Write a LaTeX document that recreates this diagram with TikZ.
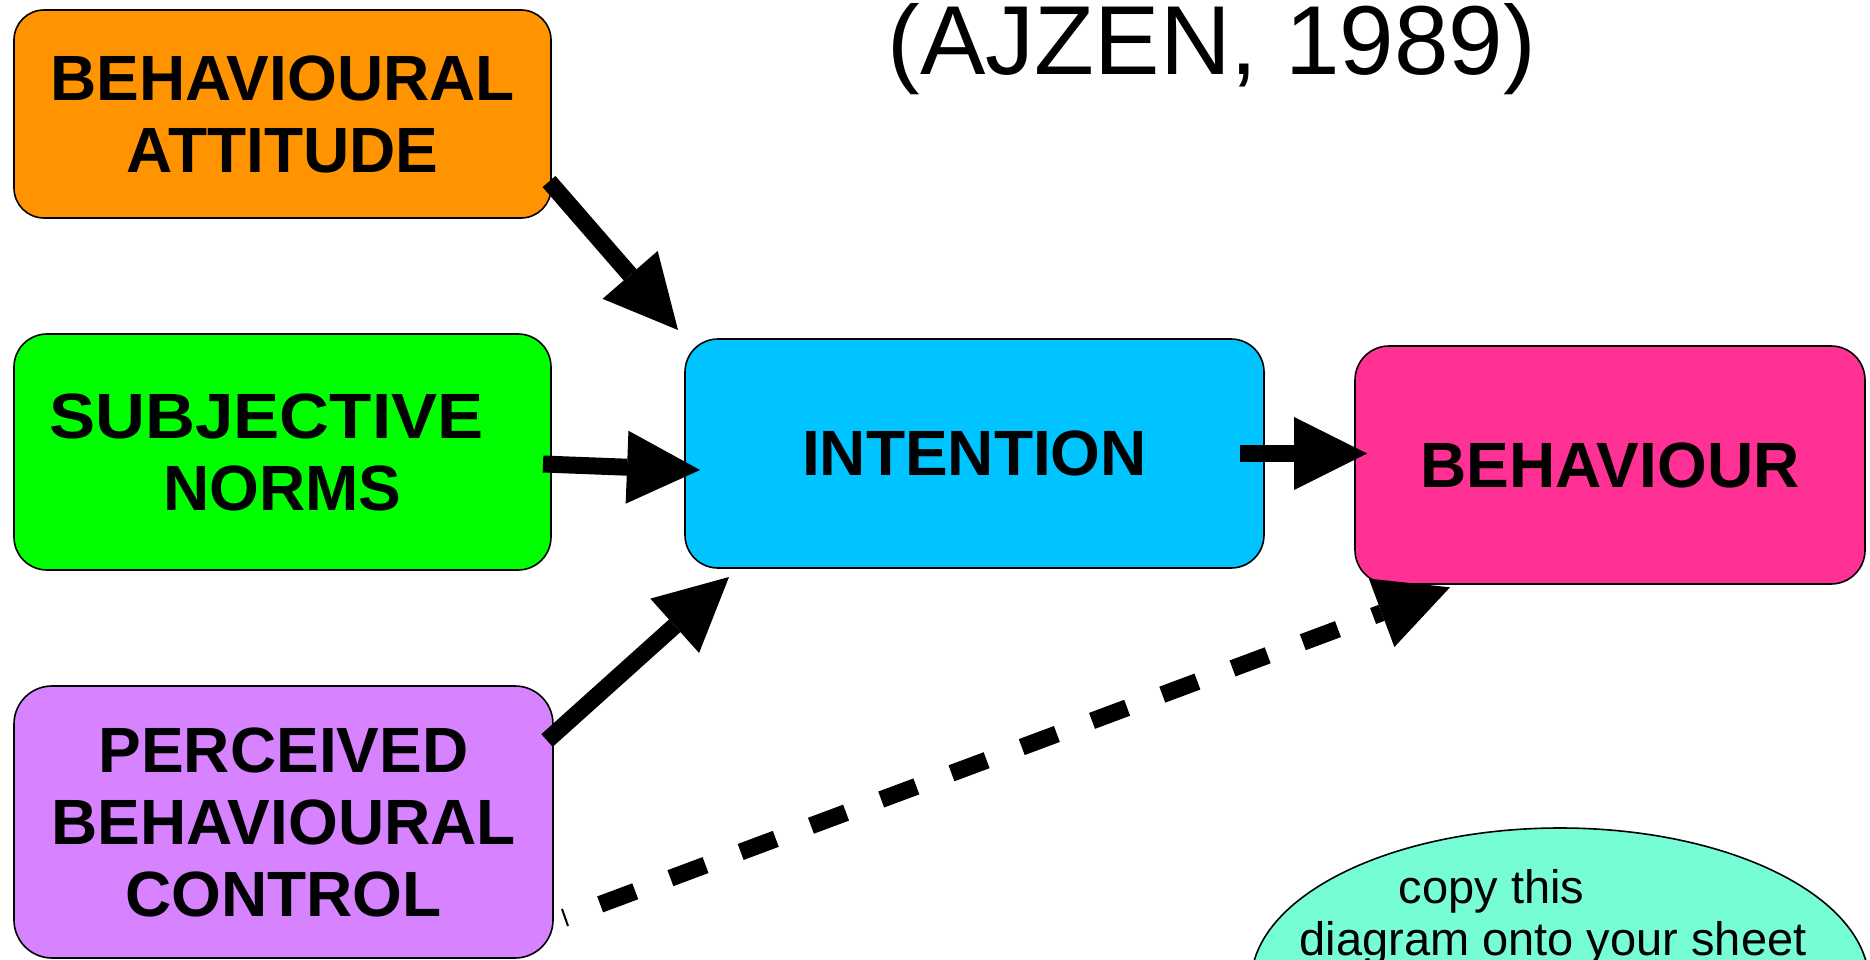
\documentclass[tikz,border=0pt]{standalone}
\usepackage{fontspec}
\usepackage{graphicx}
\setmainfont{Liberation Sans}
\usetikzlibrary{arrows.meta,shapes.geometric,calc}
\definecolor{cOrange}{HTML}{FF9400}
\definecolor{cGreen}{HTML}{00FF00}
\definecolor{cPurple}{HTML}{D783FF}
\definecolor{cCyan}{HTML}{00C4FF}
\definecolor{cPink}{HTML}{FF3194}
\definecolor{cAqua}{HTML}{76FDD6}
\tikzset{
  box/.style={draw=black, line width=1.6pt, rectangle, inner sep=0pt, align=center,
    font=\fontsize{64}{72}\selectfont\bfseries},
  conn/.style={line width=17pt, -{Triangle[length=73pt,width=73pt,line width=0pt]}},
  dashconn/.style={conn, dash pattern=on 37.5pt off 37.5pt, dash phase=37.5pt},
  notetext/.style={anchor=base, inner sep=0pt, font=\fontsize{47}{55}\selectfont},
}
\begin{document}
\begin{tikzpicture}[x=1pt,y=-1pt]
\useasboundingbox (0,0) rectangle (1870,960);
\clip (0,0) rectangle (1870,960);
% title
\node[anchor=base, font=\fontsize{98}{110}\selectfont, inner sep=0pt] (title) at (1212,75) {(AJZEN, 1989)};
% boxes
\node[box, fill=cOrange, rounded corners=30pt, minimum width=537pt, minimum height=208pt] (att) at (282.5,114) {BEHAVIOURAL\\ATTITUDE};
\node[box, fill=cGreen, rounded corners=33pt, minimum width=537pt, minimum height=236pt] (norm) at (282.5,452) {\hspace*{-32pt}\scalebox{1.08}[1]{SUBJECTIVE}\\NORMS};
\node[box, fill=cPurple, rounded corners=38pt, minimum width=539pt, minimum height=272pt] (pbc) at (283.5,822) {PERCEIVED\\BEHAVIOURAL\\CONTROL};
\node[box, fill=cCyan, rounded corners=33pt, minimum width=579pt, minimum height=229pt] (int) at (974.5,453.5) {INTENTION};
\node[box, fill=cPink, rounded corners=34pt, minimum width=510pt, minimum height=238pt] (beh) at (1610,465) {BEHAVIOUR};
% note ellipse
\node[ellipse, draw=black, line width=1.6pt, fill=cAqua, minimum width=618pt, minimum height=310pt, inner sep=0pt] (note) at (1560,983) {};
\node[notetext] (n1) at (1491.5,903) {copy this};
\node[notetext] (n2) at (1553,955) {diagram onto your sheet};
% connector end points
\coordinate (a1s) at (549,181.5);
\coordinate (a1e) at (678,330);
\coordinate (a2s) at (543,464);
\coordinate (a2e) at (700,470);
\coordinate (a3s) at (547,740.5);
\coordinate (a3e) at (729,577);
\coordinate (a4s) at (1240,453.5);
\coordinate (a4e) at (1367,453.5);
\coordinate (a5s) at (565,917.5);
\coordinate (a5e) at (1450,587.3);
% connectors
\draw[conn] (a1s) -- (a1e);
\draw[conn] (a2s) -- (a2e);
\draw[conn] (a3s) -- (a3e);
\draw[conn] (a4s) -- (a4e);
\draw[dashconn] (a5s) -- (a5e);
\draw[line width=2pt] ($(a5s)+(-3,-8.5)$) -- ($(a5s)+(3,8.5)$);
\end{tikzpicture}
\end{document}
